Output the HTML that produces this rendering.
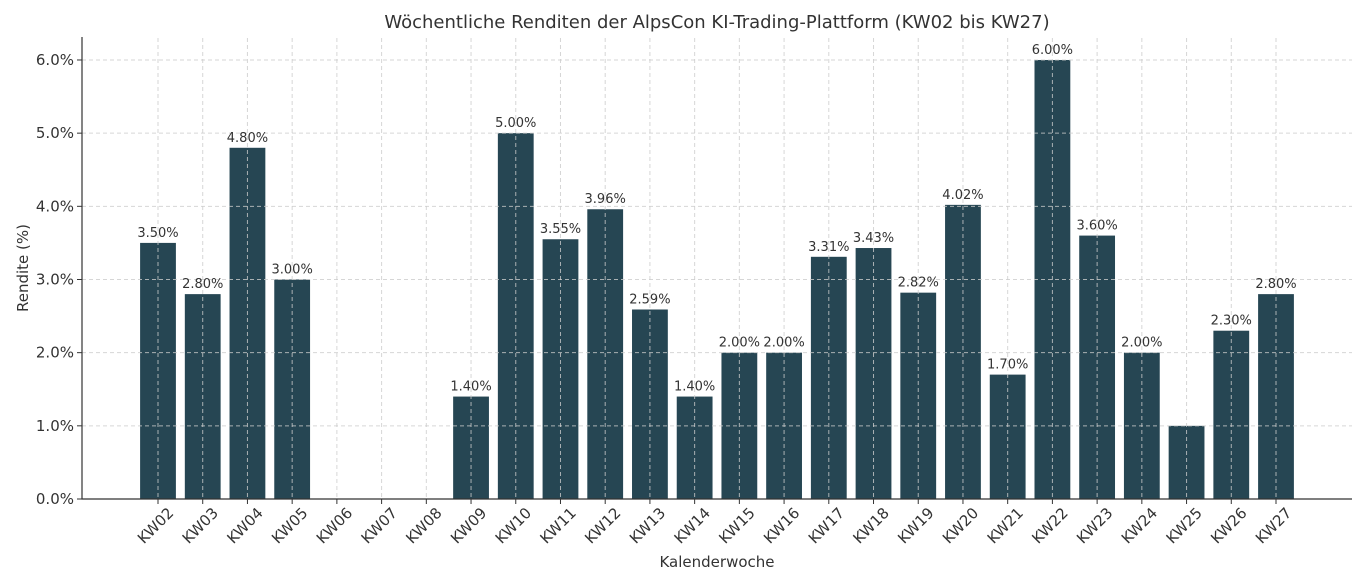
<!DOCTYPE html>
<html><head><meta charset="utf-8"><style>
html,body{margin:0;padding:0;background:#fff;}
svg{display:block;font-family:"DejaVu Sans","Liberation Sans",sans-serif;}
</style></head><body>
<svg id="c" width="1366" height="585" viewBox="0 0 1366 585" xmlns="http://www.w3.org/2000/svg">
<text x="717" y="28" font-size="18" fill="#333" text-anchor="middle">Wöchentliche Renditen der AlpsCon KI-Trading-Plattform (KW02 bis KW27)</text>
<text x="717" y="567" font-size="15" fill="#333" text-anchor="middle">Kalenderwoche</text>
<text transform="translate(28,268) rotate(-90)" font-size="15" fill="#333" text-anchor="middle">Rendite (%)</text>
<g id="g"></g>
</svg>
<script>
var v=[3.5,2.8,4.8,3.0,0,0,0,1.4,5.0,3.55,3.96,2.59,1.4,2.0,2.0,3.31,3.43,2.82,4.02,1.7,6.0,3.6,2.0,1.0,2.3,2.8];
var y0=499,k=73.17,s='';
function Y(x){return y0-x*k;}
for(var i=0;i<26;i++){var cx=158+i*44.72,h=v[i]*k;
if(h>0)s+='<rect x="'+(cx-17.9)+'" y="'+Y(v[i])+'" width="35.8" height="'+h+'" fill="#264653"/>';}
for(var t=0;t<=6;t++){var y=Y(t);
s+='<line x1="82" x2="1352" y1="'+y+'" y2="'+y+'" stroke="#ccc" stroke-opacity="0.8" stroke-dasharray="4,3" stroke-width="1"/>';
s+='<line x1="77" x2="82" y1="'+y+'" y2="'+y+'" stroke="#333"/>';
s+='<text x="74" y="'+(y+5)+'" font-size="15" fill="#333" text-anchor="end">'+t.toFixed(1)+'%</text>';}
for(var i=0;i<26;i++){var cx=158+i*44.72,n=i+2,l='KW'+(n<10?'0':'')+n;
s+='<line x1="'+cx+'" x2="'+cx+'" y1="38" y2="499" stroke="#ccc" stroke-opacity="0.8" stroke-dasharray="4,3"/>';
s+='<line x1="'+cx+'" x2="'+cx+'" y1="499" y2="504" stroke="#333"/>';
s+='<text transform="translate('+(cx-2)+',526) rotate(-45)" font-size="15" fill="#333" text-anchor="middle" dominant-baseline="middle">'+l+'</text>';
if(v[i]>0&&i!=23)s+='<text x="'+cx+'" y="'+(Y(v[i])-6)+'" font-size="13" fill="#333" text-anchor="middle">'+v[i].toFixed(2)+'%</text>';}
s+='<line x1="82" x2="82" y1="37" y2="499.5" stroke="#333" stroke-width="1.2"/>';
s+='<line x1="81.5" x2="1352" y1="499" y2="499" stroke="#333" stroke-width="1.2"/>';
document.getElementById('g').innerHTML=s;
</script>
</body></html>
